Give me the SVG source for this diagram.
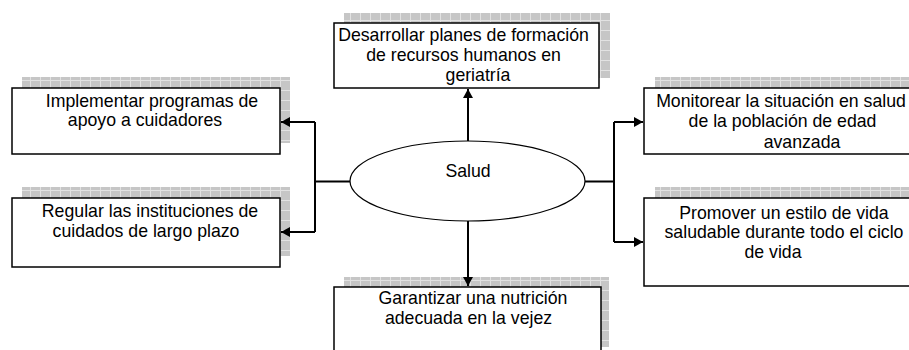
<svg xmlns="http://www.w3.org/2000/svg" width="909" height="350" viewBox="0 0 909 350">
<defs>
<pattern id="grid" x="0" y="0" width="10" height="10" patternUnits="userSpaceOnUse">
<rect width="10" height="10" fill="#c6c6c6"/>
<path d="M0,0.5 H10 M0.5,0 V10" stroke="#e2e2e2" stroke-width="1"/>
</pattern>
<marker id="arr" markerUnits="userSpaceOnUse" markerWidth="10" markerHeight="10" refX="9" refY="5" orient="auto">
<path d="M0,0 L9,5 L0,10 z" fill="#000"/>
</marker>
</defs>
<style>
.shadow{fill:url(#grid);stroke:none}
.box{fill:#fff;stroke:#000;stroke-width:1.5}
.t{font-family:"Liberation Sans",Arial,sans-serif;font-size:17.7px;fill:#000;text-anchor:middle}
.c{fill:none;stroke:#000;stroke-width:2}
</style>
<rect width="909" height="350" fill="#fff"/>

<g id="salud">
<ellipse cx="467.5" cy="181" rx="117.5" ry="40" fill="#fff" stroke="#000" stroke-width="1.2"/>
<text class="t" x="468" y="177">Salud</text>
</g>

<g id="desarrollar">
<rect class="shadow" x="344" y="13" width="266" height="65"/>
<rect class="box" x="334" y="23" width="265" height="65"/>
<text class="t" x="463.5" y="41">Desarrollar planes de formación</text>
<text class="t" x="463.5" y="61">de recursos humanos en</text>
<text class="t" x="478" y="81">geriatría</text>
</g>

<g id="implementar">
<rect class="shadow" x="22" y="77" width="268" height="66"/>
<rect class="box" x="12" y="88" width="268" height="66"/>
<text class="t" x="152" y="107">Implementar programas de</text>
<text class="t" x="145" y="126">apoyo a cuidadores</text>
</g>

<g id="regular">
<rect class="shadow" x="22" y="187" width="268" height="69"/>
<rect class="box" x="12" y="198" width="268" height="69"/>
<text class="t" x="150" y="217">Regular las instituciones de</text>
<text class="t" x="146" y="237">cuidados de largo plazo</text>
</g>

<g id="monitorear">
<rect class="shadow" x="655" y="77" width="270" height="66"/>
<rect class="box" x="644" y="88" width="270" height="66"/>
<text class="t" x="781" y="107">Monitorear la situación en salud</text>
<text class="t" x="782.5" y="127">de la población de edad</text>
<text class="t" x="802" y="148">avanzada</text>
</g>

<g id="promover">
<rect class="shadow" x="655" y="187" width="270" height="88"/>
<rect class="box" x="644" y="198" width="270" height="88"/>
<text class="t" x="784" y="219">Promover un estilo de vida</text>
<text class="t" x="784" y="238">saludable durante todo el ciclo</text>
<text class="t" x="773" y="258">de vida</text>
</g>

<g id="garantizar">
<rect class="shadow" x="344" y="277" width="265" height="70"/>
<rect class="box" x="334" y="287" width="267" height="70"/>
<text class="t" x="473" y="304">Garantizar una nutrición</text>
<text class="t" x="468.5" y="324">adecuada en la vejez</text>
</g>

<g id="connectors">
<path class="c" d="M350,181.5 H315 M315,122 V232 M585,181.5 H614 M614,122 V242"/>
<path class="c" d="M315,122 H281" marker-end="url(#arr)"/>
<path class="c" d="M315,232 H281" marker-end="url(#arr)"/>
<path class="c" d="M614,122 H643" marker-end="url(#arr)"/>
<path class="c" d="M614,242 H643" marker-end="url(#arr)"/>
<path class="c" d="M468,141 V89" marker-end="url(#arr)"/>
<path class="c" d="M468,221 V286" marker-end="url(#arr)"/>
</g>
</svg>
